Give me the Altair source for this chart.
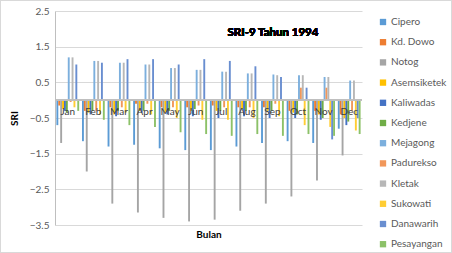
import altair as alt
import pandas as pd

months = ["Jan", "Feb", "Mar", "Apr", "May", "Jun", "Jul", "Aug", "Sep", "Oct", "Nov", "Dec"]
series = ["Cipero", "Kd. Dowo", "Notog", "Asemsiketek", "Kaliwadas", "Kedjene",
          "Mejagong", "Padurekso", "Kletak", "Sukowati", "Danawarih", "Pesayangan"]
colors = ["#5B9BD5", "#ED7D31", "#A5A5A5", "#FFC000", "#4472C4", "#70AD47",
          "#7CAFDD", "#F1975A", "#B7B7B7", "#FFCD33", "#698ED0", "#8CC168"]

cipero      = [-0.70, -1.15, -1.30, -1.25, -1.35, -1.40, -1.40, -1.30, -1.20, -1.15, -1.20, -0.80]
kd_dowo     = [-0.15, -0.30, -0.20, -0.10, -0.20, -0.20, -0.15, -0.20, -0.20, -0.30, -0.30, -0.40]
notog       = [-1.20, -2.00, -2.90, -3.15, -3.30, -3.40, -3.35, -3.10, -2.90, -2.70, -2.25, -1.55]
asemsiketek = [-0.25, -0.35, -0.40, -0.30, -0.35, -0.30, -0.30, -0.25, -0.30, -0.35, -0.40, -0.50]
kaliwadas   = [-0.30, -0.40, -0.45, -0.35, -0.40, -0.45, -0.50, -0.45, -0.50, -0.50, -0.55, -0.70]
kedjene     = [-0.35, -0.30, -0.30, -0.30, -0.30, -0.25, -0.30, -0.30, -0.30, -0.40, -0.50, -0.60]
mejagong    = [1.20, 1.10, 1.05, 1.00, 0.90, 0.85, 0.80, 0.75, 0.72, 0.70, 0.65, 0.55]
padurekso   = [-0.05, -0.30, -0.20, -0.10, -0.20, -0.15, -0.20, -0.20, -0.10, 0.35, 0.35, -0.30]
kletak      = [1.20, 1.10, 1.05, 1.00, 0.90, 0.85, 0.80, 0.75, 0.70, 0.70, 0.65, 0.55]
sukowati    = [-0.20, -0.40, -0.35, -0.40, -0.50, -0.55, -0.55, -0.50, -0.45, -0.70, -0.75, -0.85]
danawarih   = [1.00, 1.05, 1.15, 1.15, 1.00, 1.15, 1.10, 0.95, 0.65, 0.35, -1.10, -0.50]
pesayangan  = [-0.30, -0.55, -0.70, -0.75, -0.90, -0.95, -1.00, -0.95, -1.00, -0.95, -1.00, -0.95]

y_ticks = [-3.5, -2.5, -1.5, -0.5, 0.5, 1.5, 2.5]

all_vals = [cipero, kd_dowo, notog, asemsiketek, kaliwadas, kedjene,
            mejagong, padurekso, kletak, sukowati, danawarih, pesayangan]
rows = []
for s, vals in zip(series, all_vals):
    for m, v in zip(months, vals):
        rows.append({"Bulan": m, "Stasiun": s, "SRI": v})
df = pd.DataFrame(rows)
mdf = pd.DataFrame({"Bulan": months, "SRI": [0.0] * len(months)})

FONT = "Lato"
W, H = 307, 214

xscale = alt.Scale(domain=months, paddingInner=0.11, paddingOuter=0.055)
yscale = alt.Scale(domain=[-3.5, 2.5], nice=False, zero=False)

xaxis = alt.Axis(labels=False, ticks=False, domain=False, grid=False, title="Bulan",
                 titleFont=FONT, titleFontSize=10, titleFontWeight="bold",
                 titleColor="#000000", titlePadding=4)
yaxis = alt.Axis(values=y_ticks, format=".1f", title="SRI", titleFont=FONT,
                 titleFontSize=10, titleFontWeight="bold", titleColor="#000000",
                 titlePadding=10, labelFont=FONT, labelFontSize=10,
                 labelColor="#595959", ticks=False, domain=True,
                 labelOverlap=False, labelFlush=False, grid=True,
                 domainColor="#BFBFBF", gridColor="#D9D9D9", labelPadding=6)

X = alt.X("Bulan:N", scale=xscale, sort=months, axis=xaxis, title="Bulan")
Y = alt.Y("SRI:Q", scale=yscale, axis=yaxis, title="SRI")

bars = alt.Chart(df).mark_bar().encode(
    x=X,
    xOffset=alt.XOffset("Stasiun:N", sort=series, scale=alt.Scale(domain=series, paddingInner=0, paddingOuter=0)),
    y=Y,
    color=alt.Color("Stasiun:N", sort=series, scale=alt.Scale(domain=series, range=colors),
                    legend=alt.Legend(title=None, orient="none", legendX=323, legendY=6,
                                      symbolType="square", symbolSize=40, symbolStrokeWidth=0,
                                      labelFont=FONT, labelFontSize=10, labelColor="#595959",
                                      rowPadding=10.2, labelOffset=3)),
)

zero_rule = alt.Chart(mdf).mark_rule(color="#BFBFBF", strokeWidth=1).encode(y=Y)

mlabels = alt.Chart(mdf).mark_text(font=FONT, fontSize=10, color="#404040", dy=12).encode(
    x=X, y=Y, text="Bulan:N",
)

title = alt.Chart(mdf).mark_text(font=FONT, fontSize=11.5, fontWeight="bold", color="#000000").encode(
    x=alt.value(218), y=alt.value(22), text=alt.value("SRI-9 Tahun 1994")
)

frame = alt.Chart(mdf).mark_rect(fill=None, stroke="#D9D9D9", strokeWidth=1).encode(
    x=alt.value(-54.5), x2=alt.value(396.5), y=alt.value(-10.5), y2=alt.value(241.5)
)

chart = alt.layer(bars, zero_rule, mlabels, title, frame).properties(
    width=W, height=H,
    padding={"left": 55, "top": 11, "right": 90, "bottom": 28},
    autosize=alt.AutoSizeParams(type="none"),
    background="white",
).configure_view(stroke=None)

chart.save("out.html", embed_options={"renderer": "svg", "actions": False})
